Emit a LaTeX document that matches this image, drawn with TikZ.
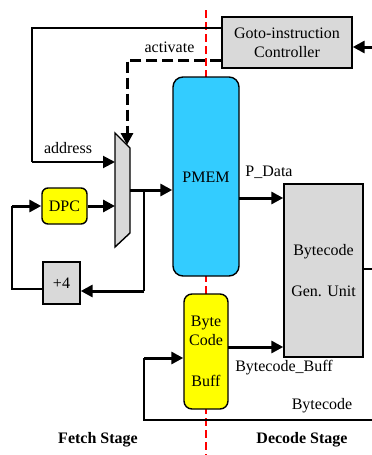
\documentclass[tikz,border=0pt]{standalone}
\usepackage{fontspec}
\setmainfont{Liberation Serif}
\usetikzlibrary{arrows.meta}
\definecolor{boxgrey}{HTML}{D9D9D9}
\definecolor{pmemblue}{HTML}{33CCFF}
\definecolor{boxyellow}{HTML}{FFFF00}
\begin{document}
\begin{tikzpicture}[x=1pt,y=-1pt,
  font=\fontsize{16}{19}\selectfont,
  boxline/.style={draw=black,line width=1.4pt},
  thinline/.style={line width=1.3pt},
  medarrow/.style={line width=2pt,-{Triangle[length=12pt,width=12pt]}},
  thickarrow/.style={line width=3pt,-{Triangle[length=12pt,width=12pt]}},
  greybox/.style={boxline,fill=boxgrey,inner sep=0pt},
  yellowbox/.style={boxline,fill=boxyellow,inner sep=0pt},
  lbl/.style={inner sep=0pt}]
\useasboundingbox (0,0) rectangle (372,455);

% stage divider
\coordinate (redtop) at (206,10);
\coordinate (redbot) at (206,455);
\draw[red,line width=2.7pt,dash pattern=on 8pt off 4pt] (redtop) -- (redbot);

% boxes
\node[greybox,minimum width=130pt,minimum height=51pt,align=center] (ctrl) at (287,42.5) {Goto-instruction\\Controller};
\node[boxline,fill=pmemblue,rounded corners=10pt,minimum width=66pt,minimum height=199pt,inner sep=0pt] (pmem) at (206,176.5) {};
\node[lbl] (pmemtxt) at (206,177) {PMEM};
\node[yellowbox,rounded corners=6pt,minimum width=45pt,minimum height=36pt] (dpc) at (64.5,206) {DPC};
\node[greybox,minimum width=37pt,minimum height=42pt] (p4) at (61.5,283) {+4};
\node[greybox,minimum width=79pt,minimum height=173pt] (gen) at (323.5,270.5) {};
\node[lbl,align=center] (gentxt) at (323.5,270.5) {Bytecode\\[22pt]Gen. Unit};
\node[yellowbox,rounded corners=8pt,minimum width=44pt,minimum height=115pt] (buff) at (206,351.5) {};
\node[lbl,align=center] (bufftxt) at (206,351) {Byte\\Code\\[22pt]Buff};

% mux (trapezoid)
\coordinate (m1) at (115,133);
\coordinate (m2) at (130,148);
\coordinate (m3) at (130,233);
\coordinate (m4) at (115,247);
\draw[boxline,fill=boxgrey] (m1) -- (m2) -- (m3) -- (m4) -- cycle;
\coordinate (muxaddr) at (115,162);
\coordinate (muxdpc) at (115,206);
\coordinate (muxact) at (127,145);
\coordinate (muxout) at (130,190);

% controller input
\coordinate (cin) at (372,47);
\draw[thickarrow] (cin) -- (cin -| ctrl.east);

% address line
\coordinate (addrcorner) at (32,162);
\draw[thinline] ([yshift=14.5pt]ctrl.west) -| (addrcorner);
\draw[medarrow] (addrcorner) -- (muxaddr);

% activate (dashed)
\draw[line width=3pt,dash pattern=on 11pt off 5pt,-{Triangle[length=12pt,width=12pt]}] ([yshift=-17.5pt]ctrl.west) -| (muxact);

% DPC -> mux
\draw[thickarrow] (dpc.east) -- (muxdpc);

% mux -> PMEM
\draw[thickarrow] (muxout) -- (muxout -| pmem.west);

% branch to +4
\coordinate (br1) at (144,190);
\coordinate (br2) at (144,291);
\draw[thinline] (br1) -- (br2);
\draw[thickarrow] (br2) -- (br2 -| p4.east);

% +4 loop to DPC
\coordinate (lp) at (12,206);
\draw[thinline] ([yshift=-6pt]p4.west) -| (lp);
\draw[thickarrow] (lp) -- (dpc.west);

% PMEM -> Gen
\coordinate (pd) at (239,198);
\draw[thickarrow] (pd) -- (pd -| gen.west);

% Gen output
\coordinate (gout) at (372,269);
\draw[thinline] (gout -| gen.east) -- (gout);

% Buff -> Gen
\coordinate (bb) at (228,347);
\draw[thickarrow] (bb) -- (bb -| gen.west);

% Bytecode feedback
\coordinate (fb0) at (372,420);
\coordinate (fb1) at (144,420);
\coordinate (fb2) at (144,358);
\draw[thinline] (fb0) -- (fb1) -- (fb2);
\draw[thickarrow] (fb2) -- (fb2 -| buff.west);

% labels
\node[lbl] (lact) at (169.5,47) {activate};
\node[lbl] (laddr) at (68,148) {address};
\node[lbl] (lpdata) at (269,172) {P\_Data};
\node[lbl] (lbb) at (284,368) {Bytecode\_Buff};
\node[lbl] (lbc) at (322,406) {Bytecode};
\node[lbl,font=\fontsize{16}{19}\selectfont\bfseries] (lfetch) at (98,440) {Fetch Stage};
\node[lbl,font=\fontsize{16}{19}\selectfont\bfseries] (ldecode) at (302,440) {Decode Stage};
\end{tikzpicture}
\end{document}
